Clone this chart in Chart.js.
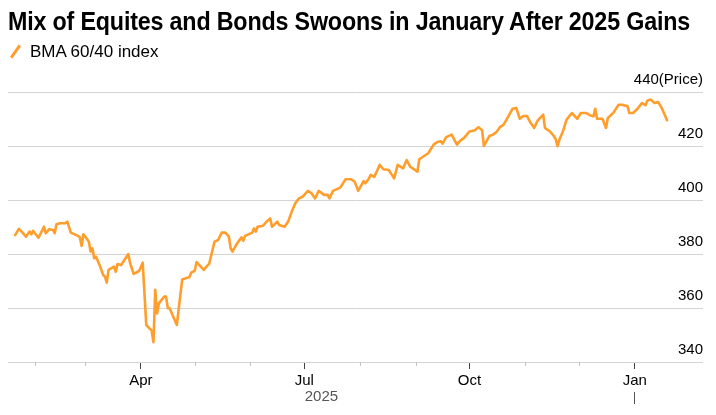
<!DOCTYPE html>
<html>
<head>
<meta charset="utf-8">
<script src="https://cdn.jsdelivr.net/npm/chart.js@4.4.1/dist/chart.umd.min.js"></script>
<style>
  html, body { margin: 0; padding: 0; background: #fff; }
  #wrap { position: relative; width: 716px; height: 415px; overflow: hidden; }
  #title { position: absolute; left: 8px; top: 6px; font: bold 26px 'Liberation Sans', Arial, sans-serif; color: #000; white-space: nowrap; transform-origin: 0 0; letter-spacing: -0.2px; }
  #legend { position: absolute; left: 8px; top: 42px; font: 17px 'Liberation Sans', Arial, sans-serif; color: #000; white-space: nowrap; }
  #legend .swatch { display: inline-block; width: 3px; height: 15px; background: #ff9e2c; transform: rotate(35deg); margin: 0 13px 0 6px; vertical-align: -2px; }
  canvas { position: absolute; left: 0; top: 0; }
</style>
</head>
<body>
<div id="wrap">
  <canvas id="chart" width="716" height="415"></canvas>
  <div id="title">Mix of Equites and Bonds Swoons in January After 2025 Gains</div>
  <div id="legend"><span class="swatch"></span>BMA 60/40 index</div>
</div>
<script>
// BMA 60/40 index
const dates = [
  '2025-01-21','2025-01-23','2025-01-25','2025-01-27','2025-01-29','2025-01-30','2025-01-31',
  '2025-02-01','2025-02-03','2025-02-06','2025-02-07','2025-02-09','2025-02-11','2025-02-12','2025-02-13',
  '2025-02-15','2025-02-18','2025-02-19','2025-02-21','2025-02-25','2025-02-26','2025-02-27','2025-02-28',
  '2025-03-03','2025-03-04','2025-03-05','2025-03-06','2025-03-07','2025-03-09','2025-03-11','2025-03-12',
  '2025-03-13','2025-03-14','2025-03-17','2025-03-18','2025-03-19','2025-03-21','2025-03-25','2025-03-26',
  '2025-03-28','2025-03-31','2025-04-02','2025-04-04','2025-04-07','2025-04-08','2025-04-09','2025-04-10',
  '2025-04-11','2025-04-14','2025-04-15','2025-04-16','2025-04-17','2025-04-21','2025-04-24','2025-04-26',
  '2025-04-28','2025-04-29','2025-05-01','2025-05-02','2025-05-06','2025-05-08','2025-05-09','2025-05-12',
  '2025-05-14','2025-05-16','2025-05-18','2025-05-20','2025-05-21','2025-05-22','2025-05-24','2025-05-27',
  '2025-05-28','2025-05-29','2025-06-02','2025-06-03','2025-06-04','2025-06-05','2025-06-08','2025-06-10',
  '2025-06-12','2025-06-13','2025-06-16','2025-06-17','2025-06-20','2025-06-22','2025-06-24','2025-06-26',
  '2025-06-28','2025-06-30','2025-07-03','2025-07-05','2025-07-07','2025-07-09','2025-07-12','2025-07-14',
  '2025-07-15','2025-07-17','2025-07-21','2025-07-24','2025-07-27','2025-07-29','2025-07-31','2025-08-03',
  '2025-08-04','2025-08-06','2025-08-07','2025-08-09','2025-08-12','2025-08-14','2025-08-17','2025-08-20',
  '2025-08-22','2025-08-25','2025-08-27','2025-08-29','2025-09-02','2025-09-03','2025-09-08','2025-09-11',
  '2025-09-13','2025-09-15','2025-09-16','2025-09-18','2025-09-21','2025-09-24','2025-09-26','2025-09-28',
  '2025-10-01','2025-10-04','2025-10-06','2025-10-08','2025-10-09','2025-10-12','2025-10-14','2025-10-16',
  '2025-10-18','2025-10-20','2025-10-23','2025-10-25','2025-10-27','2025-10-29','2025-10-31','2025-11-02',
  '2025-11-04','2025-11-06','2025-11-08','2025-11-11','2025-11-12','2025-11-15','2025-11-17','2025-11-18',
  '2025-11-19','2025-11-20','2025-11-22','2025-11-24','2025-11-27','2025-11-30','2025-12-02','2025-12-05',
  '2025-12-07','2025-12-09','2025-12-10','2025-12-11','2025-12-14','2025-12-16','2025-12-17','2025-12-20',
  '2025-12-23','2025-12-25','2025-12-28','2025-12-29','2025-12-31','2026-01-02','2026-01-05','2026-01-07',
  '2026-01-08','2026-01-10','2026-01-12','2026-01-14','2026-01-16','2026-01-19'
];
const values = [
  387.0, 389.3, 388.0, 386.4, 388.3, 387.3, 388.6,
  387.7, 386.0, 390.1, 387.7, 389.2, 388.9, 387.7, 391.0,
  391.4, 391.4, 392.0, 387.9, 386.7, 386.2, 383.0, 387.3,
  384.6, 380.9, 382.1, 378.4, 379.0, 375.9, 372.2, 371.6,
  369.4, 374.1, 375.3, 373.4, 376.3, 375.9, 380.0, 376.6,
  372.6, 373.7, 376.8, 353.7, 351.6, 347.3, 366.7, 358.0,
  361.7, 364.2, 364.2, 359.9, 359.9, 353.7, 370.6, 371.0,
  371.4, 373.1, 373.8, 377.0, 374.1, 375.7, 376.3, 384.6,
  385.2, 387.9, 387.9, 386.4, 382.1, 380.9, 383.3, 386.2,
  384.9, 386.7, 387.9, 389.5, 388.3, 390.1, 390.5, 392.0,
  393.2, 390.1, 392.0, 390.7, 390.1, 392.0, 395.7, 398.8,
  400.6, 401.2, 403.4, 402.5, 400.6, 403.4, 401.9, 401.9,
  400.6, 403.4, 404.6, 407.7, 407.7, 406.8, 403.4, 407.0,
  406.2, 408.0, 409.3, 408.6, 413.0, 411.4, 411.1, 408.0,
  413.0, 411.7, 414.8, 412.3, 410.5, 415.1, 417.3, 420.5,
  421.5, 421.7, 420.9, 423.3, 424.2, 420.5, 422.1, 423.0,
  425.4, 425.8, 427.0, 425.8, 420.0, 423.7, 424.2, 425.2,
  427.0, 427.9, 431.4, 433.8, 434.1, 430.1, 431.1, 431.1,
  428.6, 426.7, 429.5, 431.6, 426.7, 425.3, 423.6, 422.5,
  419.9, 422.3, 425.4, 429.7, 432.2, 430.1, 432.2, 432.2,
  431.4, 431.0, 433.8, 430.1, 430.1, 426.7, 430.4, 432.2,
  435.3, 435.3, 434.7, 432.2, 432.2, 433.4, 435.9, 435.1,
  436.8, 437.2, 435.9, 436.3, 434.1, 429.5
];

// x axis: month ticks, only quarter months are labelled
const monthStarts = ['2025-02-01','2025-03-01','2025-04-01','2025-05-01','2025-06-01','2025-07-01',
  '2025-08-01','2025-09-01','2025-10-01','2025-11-01','2025-12-01','2026-01-01'];
const monthLabels = ['', '', 'Apr', '', '', 'Jul', '', '', 'Oct', '', '', 'Jan'];
const yearLabels = ['2025'];
const yearBreaks = ['2026-01-01'];
const yTicks = [340, 360, 380, 400, 420, 440];

const DAY = 86400000;
const BASE = Date.UTC(2025, 0, 1);
const toDay = (s) => (Date.parse(s) - BASE) / DAY;

const X_MIN = toDay('2025-01-17');
const X_MAX = toDay('2026-02-08');
const ORANGE = '#ff9e2c';
const FONT = "'Liberation Sans', Arial, sans-serif";

// squeeze the title to the width of the original headline
const title = document.getElementById('title');
title.style.transform = 'scaleX(' + (682 / title.getBoundingClientRect().width) + ')';

// minor ticks, year label under the month labels and the year separator
const yearAxis = {
  id: 'yearAxis',
  afterDraw(chart) {
    const { ctx } = chart;
    const x = chart.scales.x;
    const top = x.top;
    ctx.save();
    ctx.strokeStyle = '#c4c4c4';
    ctx.lineWidth = 1;
    x.ticks.forEach((t) => {
      if (t.major) return;
      const px = Math.round(x.getPixelForValue(t.value)) + 0.5;
      ctx.beginPath();
      ctx.moveTo(px, top);
      ctx.lineTo(px, top + 4);
      ctx.stroke();
    });

    ctx.font = '15px ' + FONT;
    ctx.fillStyle = '#555';
    ctx.textAlign = 'center';
    ctx.textBaseline = 'middle';
    yearLabels.forEach((yr) => {
      const p0 = x.getPixelForValue(Math.max(X_MIN, toDay(yr + '-01-01')));
      const p1 = x.getPixelForValue(Math.min(X_MAX, toDay((+yr + 1) + '-01-01')));
      ctx.fillText(yr, (p0 + p1) / 2, top + 35);
    });
    ctx.strokeStyle = '#555';
    yearBreaks.forEach((d) => {
      const px = Math.round(x.getPixelForValue(toDay(d))) - 0.5;
      ctx.beginPath();
      ctx.moveTo(px, top + 30);
      ctx.lineTo(px, top + 42);
      ctx.stroke();
    });
    ctx.restore();
  }
};

new Chart(document.getElementById('chart'), {
  type: 'line',
  data: {
    datasets: [{
      label: 'BMA 60/40 index',
      data: dates.map((d, i) => ({ x: toDay(d), y: values[i] })),
      borderColor: ORANGE,
      borderWidth: 2.6,
      pointRadius: 0,
      tension: 0,
      borderJoinStyle: 'round',
      borderCapStyle: 'round',
    }],
  },
  options: {
    responsive: false,
    animation: false,
    layout: { autoPadding: false, padding: { top: 92, left: 8, right: 13, bottom: 0 } },
    plugins: { legend: { display: false }, tooltip: { enabled: false } },
    scales: {
      x: {
        type: 'linear',
        min: X_MIN,
        max: X_MAX,
        afterBuildTicks: (s) => {
          s.ticks = monthStarts.map((d, i) => ({ value: toDay(d), major: monthLabels[i] !== '' }));
        },
        afterFit: (s) => { s.height = 53; },
        ticks: {
          autoSkip: false,
          maxRotation: 0,
          padding: 3,
          font: { size: 15, family: FONT },
          color: '#000',
          callback: (v, i) => monthLabels[i],
        },
        grid: {
          drawOnChartArea: false,
          tickLength: 7,
          tickColor: (c) => (c.tick && c.tick.major ? '#444' : 'rgba(0,0,0,0)'),
        },
        border: { display: false },
      },
      y: {
        position: 'right',
        min: 340,
        max: 440,
        afterBuildTicks: (s) => { s.ticks = yTicks.map((v) => ({ value: v })); },
        ticks: {
          mirror: true,
          padding: 0,
          labelOffset: -12,
          font: { size: 15, family: FONT },
          color: '#000',
          callback: (v) => (v === 440 ? '440(Price)' : v),
        },
        grid: { color: '#d4d4d4', lineWidth: 1, drawTicks: false },
        border: { display: false },
      },
    },
  },
  plugins: [yearAxis],
});
</script>
</body>
</html>
